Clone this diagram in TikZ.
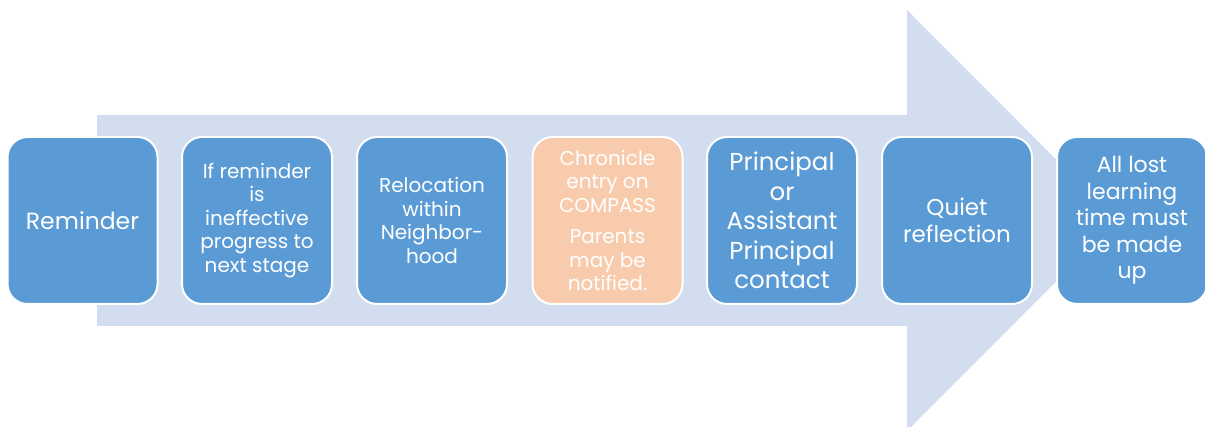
\documentclass[tikz,border=0pt]{standalone}
\usepackage{fontspec}
\setmainfont{Poppins}
\definecolor{boxblue}{HTML}{5B9BD5}
\definecolor{boxorange}{HTML}{F8CBAD}
\definecolor{arrowbg}{HTML}{D2DEEF}
\tikzset{
  stagebox/.style={rectangle, rounded corners=20pt, draw=white, line width=2pt,
    fill=boxblue, text=white, align=center, minimum width=150pt, minimum height=167pt,
    inner sep=2pt},
  smalltext/.style={font=\fontsize{20}{23.5}\selectfont},
}
\begin{document}
\begin{tikzpicture}[x=1pt,y=-1pt]
      % Variables
      \def \boxy   {220.5}
      \def \shaftl {97}
      \def \headx  {907}

      \useasboundingbox (0,0) rectangle (1205,427);

      % Big arrow
      \fill[arrowbg] (\shaftl,115) -- (\headx,115) -- (\headx,10) -- (1117,\boxy)
        -- (911,427) -- (\headx,427) -- (\headx,326) -- (\shaftl,326) -- cycle;

      % Stages
      \node[stagebox, font=\fontsize{23.5}{27}\selectfont] (remind) at (82.5,\boxy) {Reminder};
      \node[stagebox, smalltext] (progress) at (257,\boxy) {If reminder\\is\\ineffective\\progress to\\next stage};
      \node[stagebox, smalltext] (reloc) at (432,\boxy) {Relocation\\within\\Neighbor-\\hood};
      \node[stagebox, smalltext, fill=boxorange] (chron) at (607.5,\boxy) {Chronicle\\entry on\\COMPASS\\[8pt]Parents\\may be\\notified.};
      \node[stagebox, font=\fontsize{24.5}{29.5}\selectfont] (princ) at (782,\boxy) {Principal\\or\\Assistant\\Principal\\contact};
      \node[stagebox, font=\fontsize{23}{27}\selectfont] (quiet) at (957,\boxy) {Quiet\\reflection};
      \node[stagebox, font=\fontsize{22}{26.5}\selectfont] (lost) at (1132,\boxy) {All lost\\learning\\time must\\be made\\up};

    \end{tikzpicture}
\end{document}
